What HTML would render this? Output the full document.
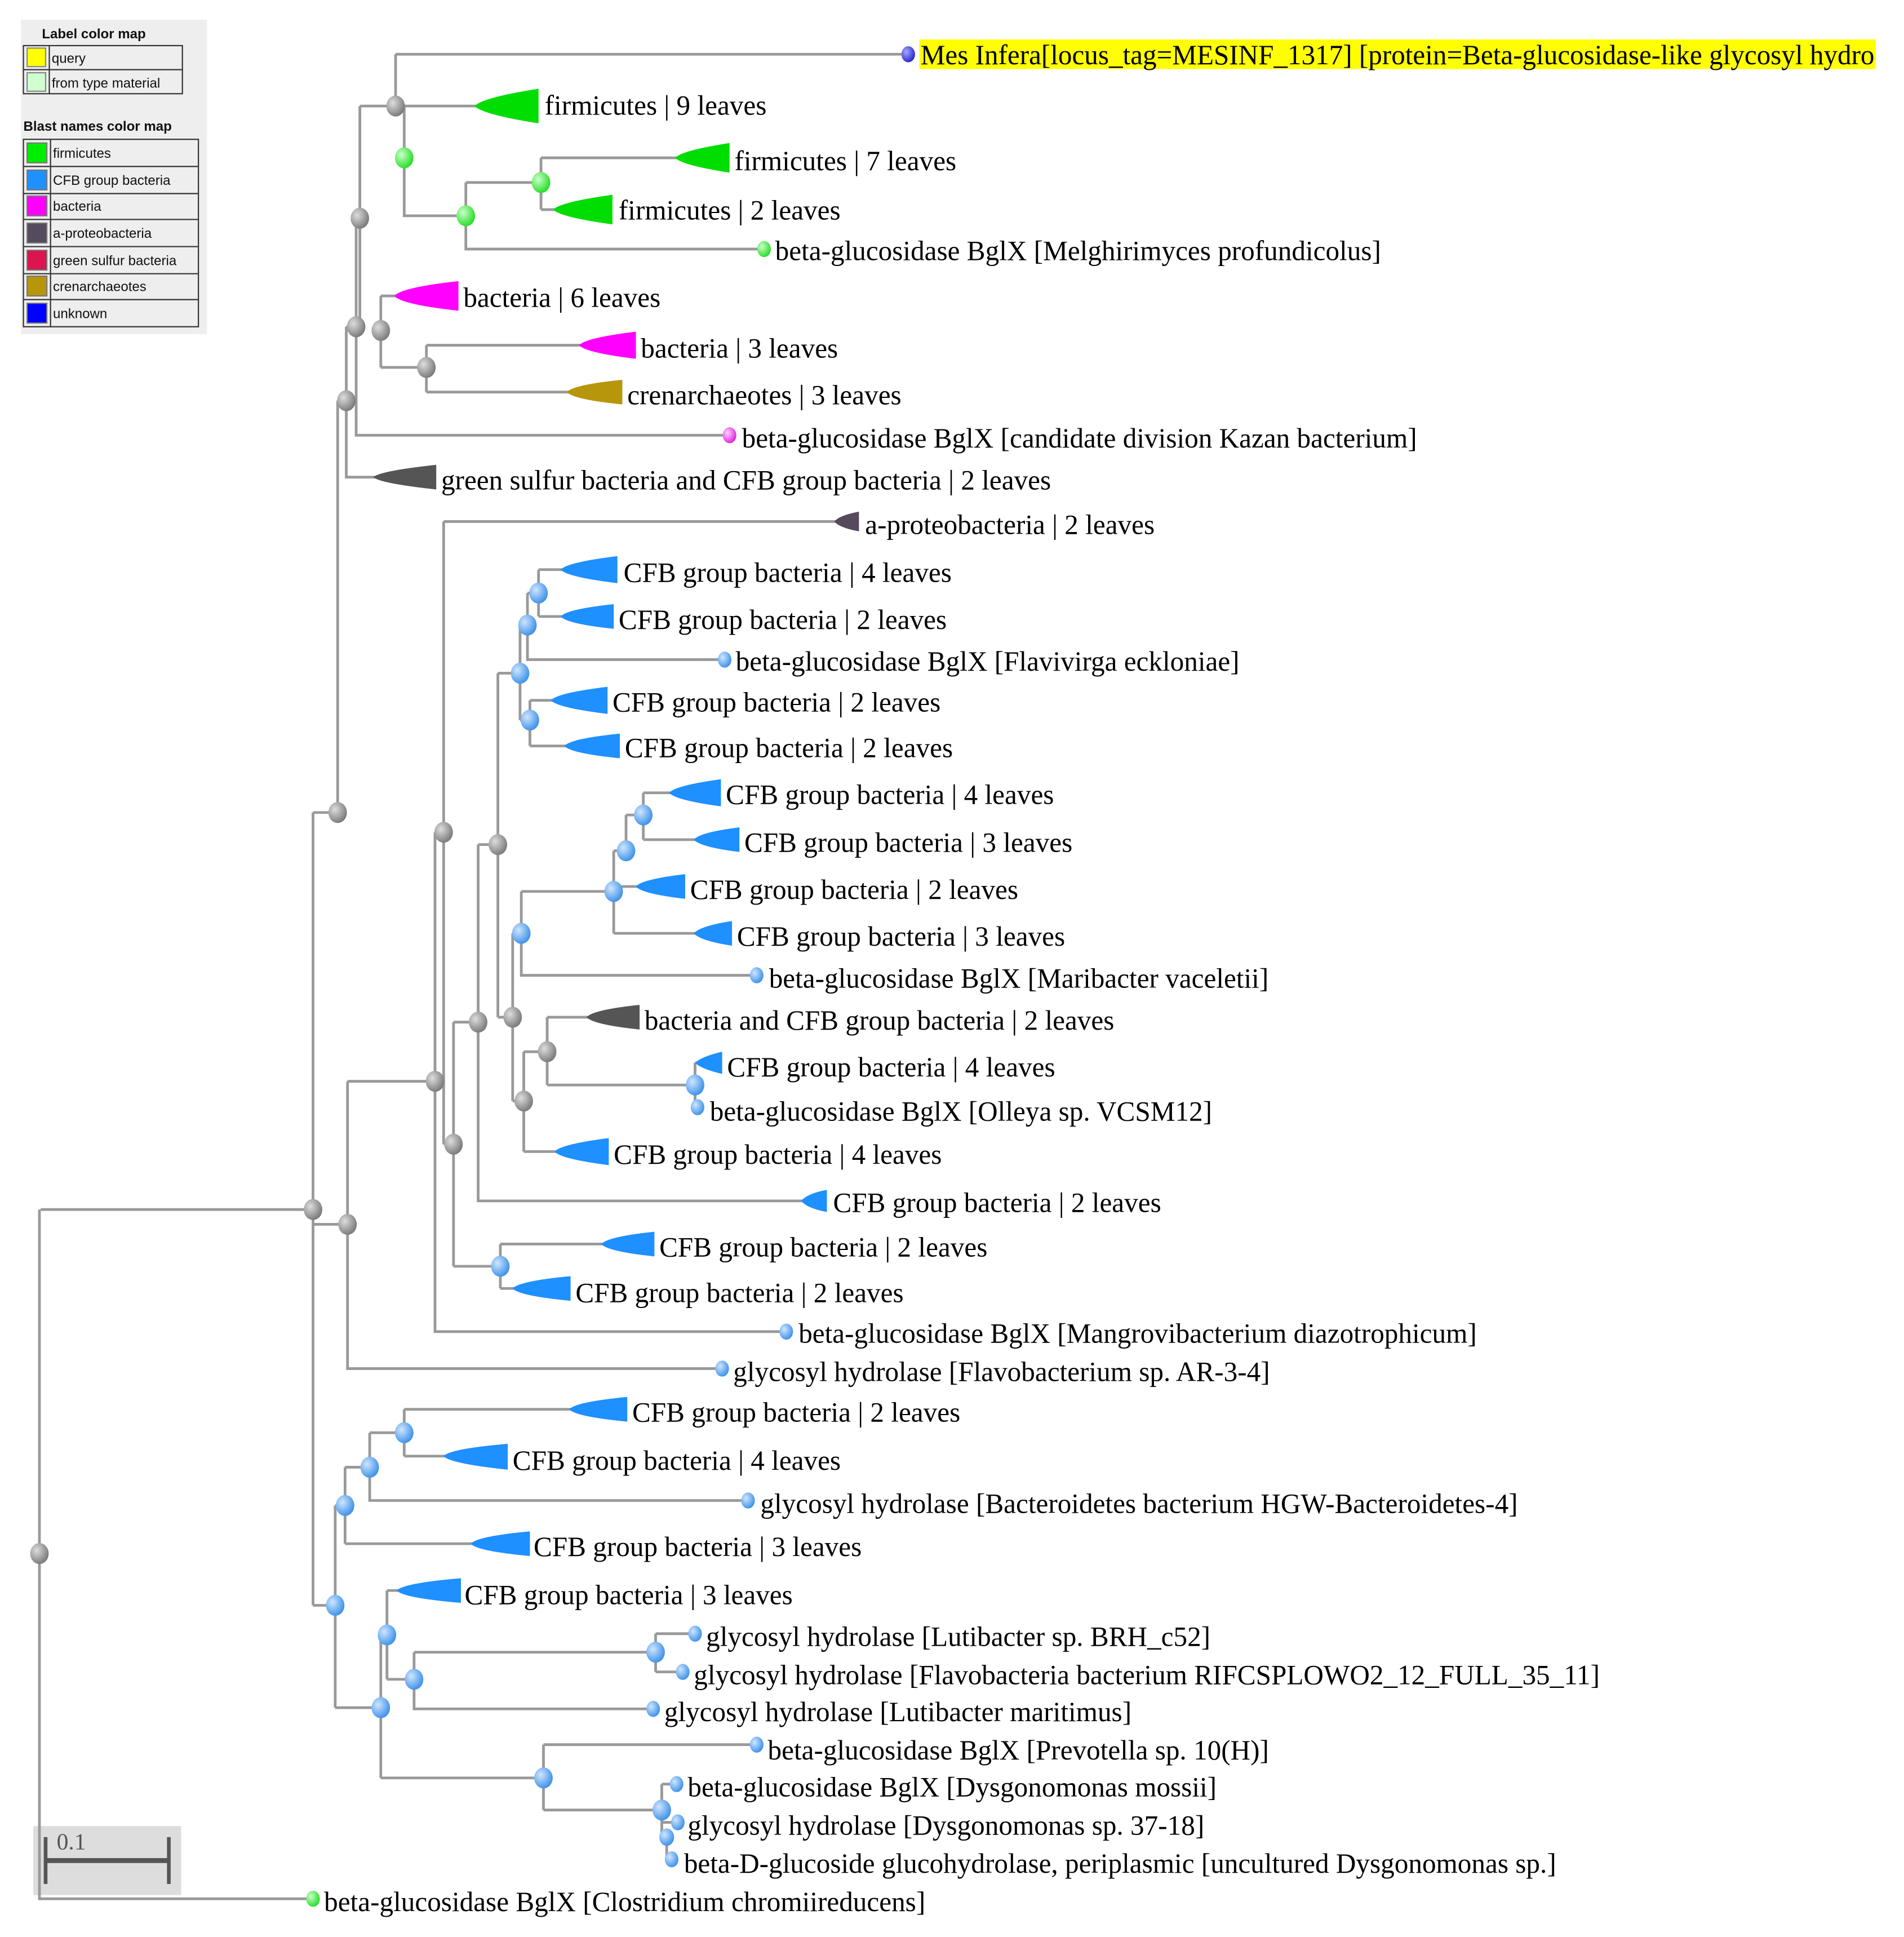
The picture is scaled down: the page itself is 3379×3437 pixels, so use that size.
<!DOCTYPE html>
<html><head><meta charset="utf-8"><style>
html,body{margin:0;padding:0;background:#fff}
svg{display:block}
.l{stroke:#999;stroke-width:2.2;fill:none}
.t{font-family:"Liberation Serif",serif;font-size:22.5px;fill:#000}
.g{font-family:"Liberation Sans",sans-serif;font-size:11px;fill:#111}
.gb{font-family:"Liberation Sans",sans-serif;font-size:11px;font-weight:bold;fill:#111}
</style></head><body>
<svg width="3379" height="3437" viewBox="0 0 1545 1571" preserveAspectRatio="none" xmlns="http://www.w3.org/2000/svg">
<defs>
<radialGradient id="gy" cx="0.35" cy="0.35" r="0.7"><stop offset="0" stop-color="#ddd"/><stop offset="1" stop-color="#777"/></radialGradient>
<radialGradient id="bl" cx="0.35" cy="0.35" r="0.7"><stop offset="0" stop-color="#cfe6ff"/><stop offset="1" stop-color="#3a8fe8"/></radialGradient>
<radialGradient id="gr" cx="0.35" cy="0.35" r="0.7"><stop offset="0" stop-color="#ccffcc"/><stop offset="1" stop-color="#22dd22"/></radialGradient>
<radialGradient id="pk" cx="0.35" cy="0.35" r="0.7"><stop offset="0" stop-color="#ffd0ff"/><stop offset="1" stop-color="#e020e0"/></radialGradient>
<radialGradient id="dk" cx="0.35" cy="0.35" r="0.7"><stop offset="0" stop-color="#aaf"/><stop offset="1" stop-color="#2222cc"/></radialGradient>
</defs>

<!-- legend -->
<rect x="17" y="16" width="151" height="255" fill="#eee"/>
<text class="gb" x="34" y="31">Label color map</text>
<rect x="19" y="37" width="129" height="39" fill="none" stroke="#333" stroke-width="1"/>
<line x1="19" y1="56.5" x2="148" y2="56.5" stroke="#333"/>
<line x1="40" y1="37" x2="40" y2="76" stroke="#333"/>
<rect x="22" y="39" width="15" height="15" fill="#ff0" stroke="#888"/>
<rect x="22" y="59" width="15" height="15" fill="#d0ffd0" stroke="#888"/>
<text class="g" x="42" y="51">query</text>
<text class="g" x="42" y="71">from type material</text>
<text class="gb" x="19" y="106">Blast names color map</text>
<rect x="19" y="113" width="142" height="152" fill="none" stroke="#333" stroke-width="1"/>
<line x1="41" y1="113" x2="41" y2="265" stroke="#333"/>
<line x1="19" y1="135" x2="161" y2="135" stroke="#333"/>
<line x1="19" y1="157" x2="161" y2="157" stroke="#333"/>
<line x1="19" y1="178" x2="161" y2="178" stroke="#333"/>
<line x1="19" y1="200" x2="161" y2="200" stroke="#333"/>
<line x1="19" y1="222" x2="161" y2="222" stroke="#333"/>
<line x1="19" y1="243" x2="161" y2="243" stroke="#333"/>
<rect x="22" y="116" width="16" height="16" fill="#0e0" stroke="#777"/>
<rect x="22" y="138" width="16" height="16" fill="#1e90ff" stroke="#777"/>
<rect x="22" y="159" width="16" height="16" fill="#f0f" stroke="#777"/>
<rect x="22" y="181" width="16" height="16" fill="#554b5c" stroke="#777"/>
<rect x="22" y="203" width="16" height="16" fill="#dc1450" stroke="#777"/>
<rect x="22" y="224" width="16" height="16" fill="#b8960b" stroke="#777"/>
<rect x="22" y="246" width="16" height="16" fill="#00f" stroke="#777"/>
<text class="g" x="43" y="128">firmicutes</text>
<text class="g" x="43" y="150">CFB group bacteria</text>
<text class="g" x="43" y="171">bacteria</text>
<text class="g" x="43" y="193">a-proteobacteria</text>
<text class="g" x="43" y="215">green sulfur bacteria</text>
<text class="g" x="43" y="236">crenarchaeotes</text>
<text class="g" x="43" y="258">unknown</text>

<!-- scale bar -->
<rect x="27" y="1481" width="120" height="56" fill="#ddd"/>
<line x1="37" y1="1509" x2="137" y2="1509" stroke="#555" stroke-width="4"/>
<line x1="37" y1="1490" x2="37" y2="1528" stroke="#555" stroke-width="3"/>
<line x1="137" y1="1490" x2="137" y2="1528" stroke="#555" stroke-width="3"/>
<text x="46" y="1500" font-family="Liberation Serif,serif" font-size="19" fill="#555">0.1</text>

<!-- query highlight -->
<rect x="746" y="32" width="776" height="24" fill="#ff0"/>

<!-- lines -->
<path class="l" d="
M321 44 H737 M321 44 V86 M321 86 H390
M328 86 V175 H378 M378 148 V202 H620 M378 148 H439 M439 128 V170 M439 128 H552 M439 170 H452
M292 86 H321 M292 86 V265
M289 177 H292 M289 177 V353 H592
M309 240 V298 M309 240 H322 M309 298 H346 M346 280 V318 M346 280 H474 M346 318 H464
M281 265 H292 M281 265 V387 H306
M274 325 H281 M274 325 V659 M254 659 H274
M33 981 H254 M254 659 V1302 M32 981 V1540 H254
M254 993 H282 M282 877 V1110 H586 M282 877 H353
M353 675 V1080 H638 M353 675 H360 M360 423 V928 M360 423 H680
M360 928 H368 M368 829 V1027 M368 829 H388 M368 1027 H406
M388 685 V974 H654 M388 685 H404
M404 546 V825 M404 546 H422 M404 825 H416
M422 507 V584 M422 507 H428 M422 584 H430
M428 481 V535 H588 M428 481 H437 M437 462 V500 M437 462 H458 M437 500 H458
M430 568 V605 M430 568 H450 M430 605 H461
M416 757 V893 M416 757 H423 M416 893 H425
M423 723 V791 H614 M423 723 H498
M498 690 V757 M498 690 H508 M498 719 H519 M498 757 H566
M508 661 V690 M508 661 H522 M522 643 V681 M522 643 H546 M522 681 H566
M425 853 V934 M425 853 H444 M425 934 H453
M444 825 V880 M444 825 H479 M444 880 H564 M564 862 V898 M564 862 H566 M564 898 H566
M406 1009 V1045 M406 1009 H491 M406 1045 H419
M254 1302 H272 M272 1221 V1385 M272 1221 H280 M272 1385 H309
M280 1190 V1252 M280 1190 H300 M280 1252 H385
M300 1162 V1217 H607 M300 1162 H328 M328 1143 V1181 M328 1143 H465 M328 1181 H363
M309 1326 V1442 M309 1326 H314 M314 1290 V1362 M314 1290 H325 M314 1362 H336
M336 1340 V1386 H530 M336 1340 H532 M532 1325 V1356 M532 1325 H564 M532 1356 H554
M309 1442 H441 M441 1415 V1468 M441 1415 H614 M441 1468 H537
M537 1447 V1490 M537 1447 H549 M537 1478 H550 M541 1490 V1508 H545
"/>

<!-- triangles -->
<g>
<path d="M385 86 Q392 79 437 72 V100 Q392 93 385 86Z" fill="#0d0"/>
<path d="M548 128 Q553 122 592 116 V140 Q553 134 548 128Z" fill="#0d0"/>
<path d="M449 170 Q454 164 497 158 V182 Q454 176 449 170Z" fill="#0d0"/>
<path d="M320 240 Q326 233 372 228 V252 Q326 247 320 240Z" fill="#f0f"/>
<path d="M470 280 Q475 274 516 269 V291 Q475 286 470 280Z" fill="#f0f"/>
<path d="M460 318 Q465 312 505 308 V328 Q465 324 460 318Z" fill="#b8960b"/>
<path d="M303 387 Q308 382 354 377 V397 Q308 392 303 387Z" fill="#555"/>
<path d="M677 423 Q681 418 697 415 V431 Q681 428 677 423Z" fill="#554b5c"/>
<path d="M455 462 Q460 456 501 451 V473 Q460 468 455 462Z" fill="#1e90ff"/>
<path d="M455 500 Q460 494 498 490 V510 Q460 506 455 500Z" fill="#1e90ff"/>
<path d="M447 568 Q452 562 493 557 V579 Q452 574 447 568Z" fill="#1e90ff"/>
<path d="M458 605 Q463 599 503 595 V615 Q463 611 458 605Z" fill="#1e90ff"/>
<path d="M543 643 Q548 637 585 632 V654 Q548 649 543 643Z" fill="#1e90ff"/>
<path d="M563 681 Q568 675 600 671 V691 Q568 687 563 681Z" fill="#1e90ff"/>
<path d="M516 719 Q521 713 556 709 V729 Q521 725 516 719Z" fill="#1e90ff"/>
<path d="M563 757 Q568 751 594 747 V767 Q568 763 563 757Z" fill="#1e90ff"/>
<path d="M476 825 Q481 819 519 815 V835 Q481 831 476 825Z" fill="#555"/>
<path d="M564 862 Q569 857 586 853 V871 Q569 867 564 862Z" fill="#1e90ff"/>
<path d="M450 934 Q455 928 494 923 V945 Q455 940 450 934Z" fill="#1e90ff"/>
<path d="M650 974 Q655 968 671 965 V983 Q655 980 650 974Z" fill="#1e90ff"/>
<path d="M488 1009 Q493 1003 531 999 V1019 Q493 1015 488 1009Z" fill="#1e90ff"/>
<path d="M416 1045 Q421 1039 463 1035 V1055 Q421 1051 416 1045Z" fill="#1e90ff"/>
<path d="M462 1143 Q467 1137 509 1133 V1153 Q467 1149 462 1143Z" fill="#1e90ff"/>
<path d="M360 1181 Q365 1175 412 1171 V1192 Q365 1187 360 1181Z" fill="#1e90ff"/>
<path d="M382 1252 Q387 1246 430 1242 V1262 Q387 1258 382 1252Z" fill="#1e90ff"/>
<path d="M322 1290 Q327 1284 374 1280 V1300 Q327 1296 322 1290Z" fill="#1e90ff"/>
</g>

<!-- internal nodes -->
<g stroke="none">
<ellipse cx="321" cy="86" rx="7.5" ry="8.5" fill="url(#gy)"/>
<ellipse cx="292" cy="177" rx="7.5" ry="8.5" fill="url(#gy)"/>
<ellipse cx="289" cy="265" rx="7.5" ry="8.5" fill="url(#gy)"/>
<ellipse cx="309" cy="268" rx="7.5" ry="8.5" fill="url(#gy)"/>
<ellipse cx="346" cy="298" rx="7.5" ry="8.5" fill="url(#gy)"/>
<ellipse cx="281" cy="325" rx="7.5" ry="8.5" fill="url(#gy)"/>
<ellipse cx="274" cy="659" rx="7.5" ry="8.5" fill="url(#gy)"/>
<ellipse cx="254" cy="981" rx="7.5" ry="8.5" fill="url(#gy)"/>
<ellipse cx="282" cy="993" rx="7.5" ry="8.5" fill="url(#gy)"/>
<ellipse cx="32" cy="1260" rx="7.5" ry="8.5" fill="url(#gy)"/>
<ellipse cx="360" cy="675" rx="7.5" ry="8.5" fill="url(#gy)"/>
<ellipse cx="353" cy="877" rx="7.5" ry="8.5" fill="url(#gy)"/>
<ellipse cx="368" cy="928" rx="7.5" ry="8.5" fill="url(#gy)"/>
<ellipse cx="388" cy="829" rx="7.5" ry="8.5" fill="url(#gy)"/>
<ellipse cx="404" cy="685" rx="7.5" ry="8.5" fill="url(#gy)"/>
<ellipse cx="416" cy="825" rx="7.5" ry="8.5" fill="url(#gy)"/>
<ellipse cx="425" cy="893" rx="7.5" ry="8.5" fill="url(#gy)"/>
<ellipse cx="444" cy="853" rx="7.5" ry="8.5" fill="url(#gy)"/>
<ellipse cx="328" cy="128" rx="7.5" ry="8.5" fill="url(#gr)"/>
<ellipse cx="378" cy="175" rx="7.5" ry="8.5" fill="url(#gr)"/>
<ellipse cx="439" cy="148" rx="7.5" ry="8.5" fill="url(#gr)"/>
<ellipse cx="437" cy="481" rx="7.5" ry="8.5" fill="url(#bl)"/>
<ellipse cx="428" cy="507" rx="7.5" ry="8.5" fill="url(#bl)"/>
<ellipse cx="422" cy="546" rx="7.5" ry="8.5" fill="url(#bl)"/>
<ellipse cx="430" cy="584" rx="7.5" ry="8.5" fill="url(#bl)"/>
<ellipse cx="522" cy="661" rx="7.5" ry="8.5" fill="url(#bl)"/>
<ellipse cx="508" cy="690" rx="7.5" ry="8.5" fill="url(#bl)"/>
<ellipse cx="498" cy="723" rx="7.5" ry="8.5" fill="url(#bl)"/>
<ellipse cx="423" cy="757" rx="7.5" ry="8.5" fill="url(#bl)"/>
<ellipse cx="564" cy="880" rx="7.5" ry="8.5" fill="url(#bl)"/>
<ellipse cx="406" cy="1027" rx="7.5" ry="8.5" fill="url(#bl)"/>
<ellipse cx="328" cy="1162" rx="7.5" ry="8.5" fill="url(#bl)"/>
<ellipse cx="300" cy="1190" rx="7.5" ry="8.5" fill="url(#bl)"/>
<ellipse cx="280" cy="1221" rx="7.5" ry="8.5" fill="url(#bl)"/>
<ellipse cx="272" cy="1302" rx="7.5" ry="8.5" fill="url(#bl)"/>
<ellipse cx="314" cy="1326" rx="7.5" ry="8.5" fill="url(#bl)"/>
<ellipse cx="336" cy="1362" rx="7.5" ry="8.5" fill="url(#bl)"/>
<ellipse cx="532" cy="1340" rx="7.5" ry="8.5" fill="url(#bl)"/>
<ellipse cx="309" cy="1385" rx="7.5" ry="8.5" fill="url(#bl)"/>
<ellipse cx="441" cy="1442" rx="7.5" ry="8.5" fill="url(#bl)"/>
<ellipse cx="537" cy="1468" rx="7.5" ry="8.5" fill="url(#bl)"/>
<ellipse cx="541" cy="1490" rx="6" ry="7" fill="url(#bl)"/>
<!-- leaf dots -->
<ellipse cx="737" cy="44" rx="5.5" ry="6.5" fill="url(#dk)"/>
<ellipse cx="620" cy="202" rx="5.5" ry="6.5" fill="url(#gr)"/>
<ellipse cx="592" cy="353" rx="5.5" ry="6.5" fill="url(#pk)"/>
<ellipse cx="588" cy="535" rx="5.5" ry="6.5" fill="url(#bl)"/>
<ellipse cx="614" cy="791" rx="5.5" ry="6.5" fill="url(#bl)"/>
<ellipse cx="566" cy="898" rx="5.5" ry="6.5" fill="url(#bl)"/>
<ellipse cx="638" cy="1080" rx="5.5" ry="6.5" fill="url(#bl)"/>
<ellipse cx="586" cy="1110" rx="5.5" ry="6.5" fill="url(#bl)"/>
<ellipse cx="607" cy="1217" rx="5.5" ry="6.5" fill="url(#bl)"/>
<ellipse cx="564" cy="1325" rx="5.5" ry="6.5" fill="url(#bl)"/>
<ellipse cx="554" cy="1356" rx="5.5" ry="6.5" fill="url(#bl)"/>
<ellipse cx="530" cy="1386" rx="5.5" ry="6.5" fill="url(#bl)"/>
<ellipse cx="614" cy="1415" rx="5.5" ry="6.5" fill="url(#bl)"/>
<ellipse cx="549" cy="1447" rx="5.5" ry="6.5" fill="url(#bl)"/>
<ellipse cx="550" cy="1478" rx="5.5" ry="6.5" fill="url(#bl)"/>
<ellipse cx="545" cy="1508" rx="5.5" ry="6.5" fill="url(#bl)"/>
<ellipse cx="254" cy="1540" rx="5.5" ry="6.5" fill="url(#gr)"/>
</g>

<!-- labels -->
<text class="t" x="747" y="52" textLength="774" lengthAdjust="spacingAndGlyphs">Mes Infera[locus_tag=MESINF_1317] [protein=Beta-glucosidase-like glycosyl hydro</text>
<text class="t" x="442" y="93">firmicutes | 9 leaves</text>
<text class="t" x="596" y="138">firmicutes | 7 leaves</text>
<text class="t" x="502" y="178">firmicutes | 2 leaves</text>
<text class="t" x="629" y="211">beta-glucosidase BglX [Melghirimyces profundicolus]</text>
<text class="t" x="376" y="249">bacteria | 6 leaves</text>
<text class="t" x="520" y="290">bacteria | 3 leaves</text>
<text class="t" x="509" y="328">crenarchaeotes | 3 leaves</text>
<text class="t" x="602" y="363">beta-glucosidase BglX [candidate division Kazan bacterium]</text>
<text class="t" x="358" y="397">green sulfur bacteria and CFB group bacteria | 2 leaves</text>
<text class="t" x="702" y="433">a-proteobacteria | 2 leaves</text>
<text class="t" x="506" y="472">CFB group bacteria | 4 leaves</text>
<text class="t" x="502" y="510">CFB group bacteria | 2 leaves</text>
<text class="t" x="597" y="544">beta-glucosidase BglX [Flavivirga eckloniae]</text>
<text class="t" x="497" y="577">CFB group bacteria | 2 leaves</text>
<text class="t" x="507" y="614">CFB group bacteria | 2 leaves</text>
<text class="t" x="589" y="652">CFB group bacteria | 4 leaves</text>
<text class="t" x="604" y="691">CFB group bacteria | 3 leaves</text>
<text class="t" x="560" y="729">CFB group bacteria | 2 leaves</text>
<text class="t" x="598" y="767">CFB group bacteria | 3 leaves</text>
<text class="t" x="624" y="801">beta-glucosidase BglX [Maribacter vaceletii]</text>
<text class="t" x="523" y="835">bacteria and CFB group bacteria | 2 leaves</text>
<text class="t" x="590" y="873">CFB group bacteria | 4 leaves</text>
<text class="t" x="576" y="909">beta-glucosidase BglX [Olleya sp. VCSM12]</text>
<text class="t" x="498" y="944">CFB group bacteria | 4 leaves</text>
<text class="t" x="676" y="983">CFB group bacteria | 2 leaves</text>
<text class="t" x="535" y="1019">CFB group bacteria | 2 leaves</text>
<text class="t" x="467" y="1056">CFB group bacteria | 2 leaves</text>
<text class="t" x="648" y="1089">beta-glucosidase BglX [Mangrovibacterium diazotrophicum]</text>
<text class="t" x="595" y="1120">glycosyl hydrolase [Flavobacterium sp. AR-3-4]</text>
<text class="t" x="513" y="1153">CFB group bacteria | 2 leaves</text>
<text class="t" x="416" y="1192">CFB group bacteria | 4 leaves</text>
<text class="t" x="617" y="1227">glycosyl hydrolase [Bacteroidetes bacterium HGW-Bacteroidetes-4]</text>
<text class="t" x="433" y="1262">CFB group bacteria | 3 leaves</text>
<text class="t" x="377" y="1301">CFB group bacteria | 3 leaves</text>
<text class="t" x="573" y="1335">glycosyl hydrolase [Lutibacter sp. BRH_c52]</text>
<text class="t" x="563" y="1366">glycosyl hydrolase [Flavobacteria bacterium RIFCSPLOWO2_12_FULL_35_11]</text>
<text class="t" x="539" y="1396">glycosyl hydrolase [Lutibacter maritimus]</text>
<text class="t" x="623" y="1427">beta-glucosidase BglX [Prevotella sp. 10(H)]</text>
<text class="t" x="558" y="1457">beta-glucosidase BglX [Dysgonomonas mossii]</text>
<text class="t" x="558" y="1488">glycosyl hydrolase [Dysgonomonas sp. 37-18]</text>
<text class="t" x="555" y="1519">beta-D-glucoside glucohydrolase, periplasmic [uncultured Dysgonomonas sp.]</text>
<text class="t" x="263" y="1550">beta-glucosidase BglX [Clostridium chromiireducens]</text>
</svg>
</body></html>
